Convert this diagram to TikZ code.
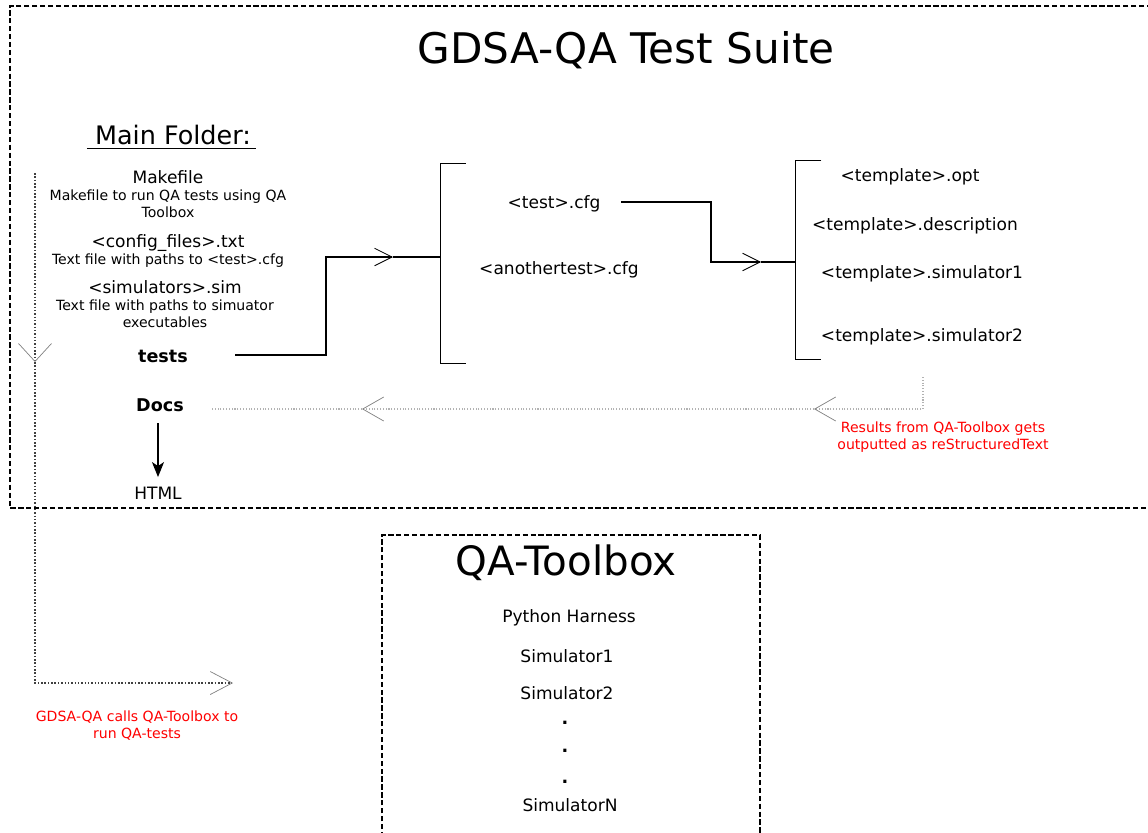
\documentclass[tikz,border=0pt]{standalone}
\usepackage{fontspec}
\setmainfont{DejaVu Sans}
\usetikzlibrary{arrows.meta,positioning}
\tikzstyle{file} = [font=\fontsize{9.7}{11.6}\selectfont, inner sep=0pt, text height=0.75em, text depth=0.25em]
\tikzstyle{folder} = [file, font=\fontsize{10}{12}\selectfont\bfseries]
\tikzstyle{note} = [font=\fontsize{8}{9.7}\selectfont, inner sep=0pt, align=center]
\tikzstyle{remark} = [note, text=red]
\tikzstyle{heading} = [font=\fontsize{24}{28}\selectfont, inner sep=0pt]
\tikzstyle{bracket} = [inner sep=0pt, minimum width=0.5cm]
\tikzstyle{frame} = [draw, line width=0.8pt, dash pattern=on 3pt off 1.5pt]
\tikzstyle{line} = [draw, line width=0.7pt, -{Straight Barb[length=3.5mm,width=3.5mm,line width=0.5pt]}]
\tikzstyle{result} = [draw, gray!60, line width=0.6pt, densely dotted, -{Straight Barb[length=4.2mm,width=4.8mm,line width=0.4pt,color=gray]}]
\tikzstyle{call} = [draw, black!75, line width=0.9pt, densely dotted]

\begin{document}
\begin{tikzpicture}[x=0.02cm, y=-0.02cm]
        \useasboundingbox (0,0) rectangle (1148,832);
        % frames
        \draw[frame] (1160,6) -| (10,508) -- (1160,508);
        \draw[frame] (382,845) |- (760,535) -- (760,845);

        % test suite
        \node[heading]                              (titl) at (626,50) {GDSA-QA Test Suite};
        \node[font=\fontsize{14.5}{17}\selectfont, inner sep=0pt] (mnfd) at (173,135) {Main Folder:};
        \draw[line width=0.7pt] ([xshift=-4.5pt,yshift=-1.7pt]mnfd.south west) -- ([xshift=2.8pt,yshift=-1.7pt]mnfd.south east);

        \node[file]                                 (make) at (168,179) {Makefile};
        \node[note, below=1pt of make]              (mknt) {Makefile to run QA tests using QA\\Toolbox};
        \node[file]                                 (conf) at (168,243) {<config\_files>.txt};
        \node[note, below=1pt of conf]              (cfnt) {Text file with paths to <test>.cfg};
        \node[file]                                 (simf) at (165,289) {<simulators>.sim};
        \node[note, below=1pt of simf]              (smnt) {Text file with paths to simuator\\executables};
        \node[folder]                               (tsts) at (163,358) {tests};
        \node[folder]                               (docs) at (160,407) {Docs};
        \node[file]                                 (html) at (158,495) {HTML};

        \node[bracket, minimum height=3.98cm]       (brk1) at (453,263.5) {};
        \node[file]                                 (tcfg) at (554,204) {<test>.cfg};
        \node[file]                                 (acfg) at (559,270) {<anothertest>.cfg};

        \node[bracket, minimum height=3.96cm]       (brk2) at (808.5,260) {};
        \node[file]                                 (topt) at (910,177) {<template>.opt};
        \node[file]                                 (tdsc) at (915,226) {<template>.description};
        \node[file]                                 (tsm1) at (922,274) {<template>.simulator1};
        \node[file]                                 (tsm2) at (922,337) {<template>.simulator2};

        \node[remark]                               (rslt) at (943,437) {Results from QA-Toolbox gets\\outputted as reStructuredText};
        \node[remark]                               (clnt) at (137,726) {GDSA-QA calls QA-Toolbox to\\run QA-tests};

        % toolbox
        \node[font=\fontsize{23}{27}\selectfont, inner sep=0pt] (qatb) at (566,563) {QA-Toolbox};
        \node[file]                                 (pyth) at (569,618) {Python Harness};
        \node[file]                                 (sim1) at (567,658) {Simulator1};
        \node[file]                                 (sim2) at (567,695) {Simulator2};
        \foreach \y [count=\i] in {720,748,779}
            \node[file, font=\fontsize{10}{12}\selectfont\bfseries] (dot\i) at (565,\y) {.};
        \node[file]                                 (simN) at (570,807) {SimulatorN};

        \foreach \b in {brk1,brk2}
            \draw[line width=0.7pt] (\b.north east) -- (\b.north west) -- (\b.south west) -- (\b.south east);

        \coordinate (tout) at (235,355);
        \coordinate (tin)  at (393,257);
        \coordinate (cout) at (621,202);
        \coordinate (cin)  at (761,262);
        \path[line] (tout) -- ++(91,0) |- (tin);
        \draw[line width=0.7pt] (tin) -- (tin -| brk1.west);
        \path[line] (cout) -- ++(90,0) |- (cin);
        \draw[line width=0.7pt] (cin) -- (cin -| brk2.west);

        \draw[line width=0.8pt, -{Stealth[length=3mm,width=2.4mm,inset=0.8mm]}, shorten <=4pt, shorten >=5pt] (docs.south -| html) -- (html);

        % results back to docs
        \coordinate (rsrc) at (923,377);
        \coordinate (rar1) at (814,409);
        \coordinate (rar2) at (362,409);
        \path[result] (rsrc) |- (rar1);
        \path[result] (rar1) -- (rar2);
        \draw[gray!60, line width=0.6pt, densely dotted, shorten >=15pt] (rar2) -- (rar2 -| docs.east);

        % call to toolbox
        \coordinate (cstr) at (35,173);
        \coordinate (cmid) at (35,362);
        \coordinate (cend) at (233,683);
        \path[call, -{Straight Barb[length=3.6mm,width=6.6mm,line width=0.4pt,color=gray]}] (cstr) -- (cmid);
        \path[call, -{Straight Barb[length=4.4mm,width=4.6mm,line width=0.4pt,color=gray]}] (cmid) |- (cend);
\end{tikzpicture}
\end{document}
